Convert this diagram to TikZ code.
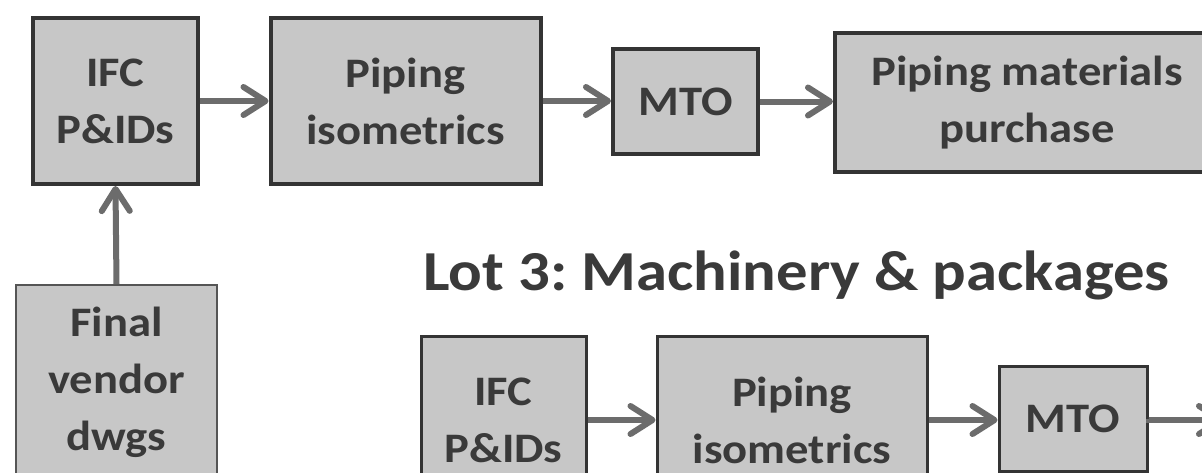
\documentclass[tikz,border=0pt]{standalone}
\usepackage{fontspec}
\setmainfont{Carlito}[FakeStretch=1.11]
\frenchspacing
\usetikzlibrary{arrows.meta}
\definecolor{boxfill}{RGB}{199,199,199}
\definecolor{boxline}{RGB}{52,52,52}
\definecolor{vendline}{RGB}{85,85,85}
\definecolor{arrowgray}{RGB}{108,108,108}
\definecolor{textgray}{RGB}{58,58,58}
\tikzset{
  stepbox/.style={draw=boxline, fill=boxfill, rectangle, inner sep=0pt,
    align=center, text=textgray,
    font={\fontsize{42}{57}\selectfont\bfseries}},
  topbox/.style={stepbox, line width=4pt},
  lowbox/.style={stepbox, line width=3pt},
  vendbox/.style={stepbox, line width=2pt, draw=vendline},
  flow/.style={draw=arrowgray, line width=6pt,
    -{Straight Barb[length=22pt,width=28pt,round]}},
}
\begin{document}
\begin{tikzpicture}[x=1pt,y=-1pt]
\useasboundingbox (0,0) rectangle (1202,472);
\fill[white] (0,0) rectangle (1202,472);
\clip (0,0) rectangle (1202,472);
% top row
\node[topbox, minimum width=165pt, minimum height=166pt] (A) at (115.5,101) {IFC\\P\&IDs};
\node[topbox, minimum width=270pt, minimum height=166pt] (B) at (405.5,101) {Piping\\isometrics};
\node[topbox, minimum width=145pt, minimum height=105pt] (C) at (685.5,101.5) {MTO};
\node[topbox, minimum width=384pt, minimum height=139pt] (D) at (1027,102.5) {Piping materials\\purchase};
\node[vendbox, minimum width=201pt, minimum height=195pt] (V) at (116.5,382.5) {Final\\vendor\\dwgs};
% title
\node[anchor=base west, inner sep=0pt, text=textgray,
  font={\fontsize{56.5}{60}\selectfont\bfseries}] (T) at (423,290) {Lot 3: Machinery \& packages};
% bottom row
\node[lowbox, minimum width=165pt, minimum height=168pt] (E) at (503.5,420) {IFC\\P\&IDs};
\node[lowbox, minimum width=270pt, minimum height=168pt] (F) at (792,420) {Piping\\isometrics};
\node[lowbox, minimum width=148pt, minimum height=105pt] (G) at (1073,418.5) {MTO};
\coordinate (Gout) at (1224,420);
% connectors
\draw[flow] (A.east) -- (B.west);
\draw[flow] (B.east) -- (B.east -| C.west);
\draw[flow] (C.east) -- (C.east -| D.west);
\draw[flow] (V.north) -- (A.south);
\draw[flow] (E.east) -- (F.west);
\draw[flow] (F.east) -- (F.east -| G.west);
\draw[flow] (G.east) -- (G.east |- Gout) -- (Gout);
\end{tikzpicture}
\end{document}
